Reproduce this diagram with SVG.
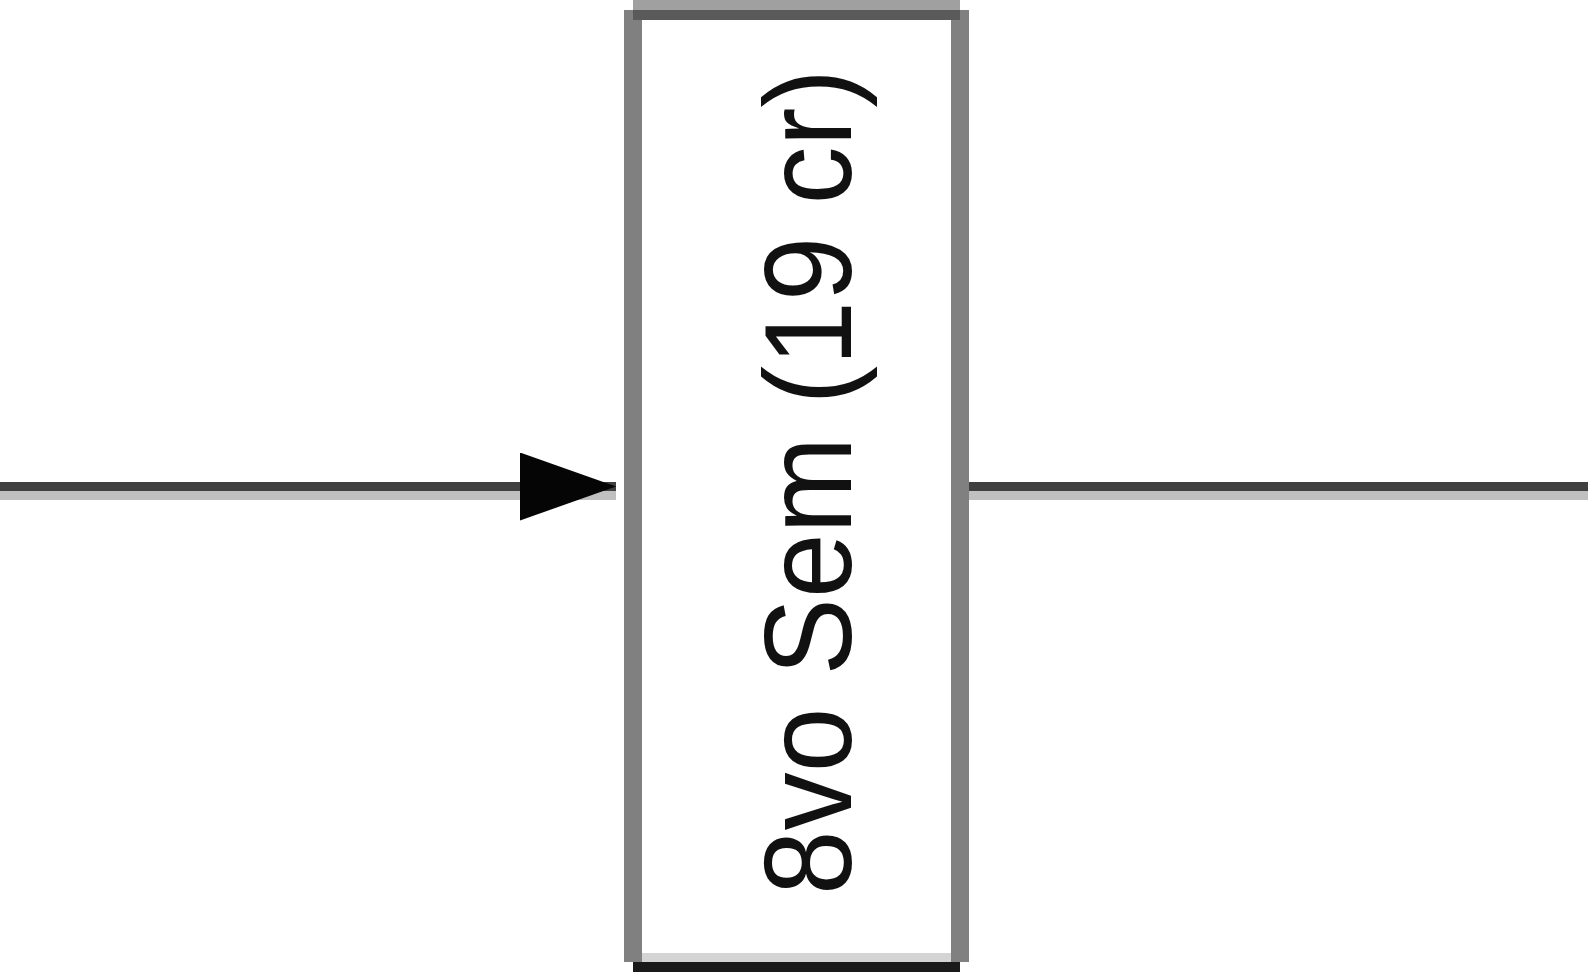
<svg xmlns="http://www.w3.org/2000/svg" width="1588" height="972" viewBox="0 0 1588 972">
  <style>
    .side { fill: #808080; }
    .label { font-family: "Liberation Sans", Arial, sans-serif; font-size: 125px; fill: #111111; }
    .wire { stroke: #404040; stroke-width: 9; fill: none; }
    .wire-shade { stroke: #c0c0c0; stroke-width: 9; fill: none; }
  </style>
  <defs>
    <marker id="arrow" markerUnits="userSpaceOnUse" markerWidth="100" markerHeight="80" refX="96" refY="34" orient="auto">
      <polygon points="0,0 96,34 0,68" fill="#050505"/>
    </marker>
  </defs>
  <rect width="1588" height="972" fill="#ffffff"/>
  <g id="connectors">
    <line class="wire-shade" x1="0" y1="495.5" x2="616" y2="495.5"/>
    <line class="wire" x1="0" y1="486.5" x2="616" y2="486.5" marker-end="url(#arrow)"/>
    <line class="wire-shade" x1="960" y1="495.5" x2="1588" y2="495.5"/>
    <line class="wire" x1="960" y1="486.5" x2="1588" y2="486.5"/>
  </g>
  <g id="node-8vo-sem">
    <rect x="633" y="10" width="327" height="952" fill="#ffffff"/>
    <rect class="side" x="624" y="10" width="18" height="952"/>
    <rect class="side" x="951" y="10" width="18" height="952"/>
    <rect x="633" y="0" width="327" height="10" fill="#a0a0a0"/>
    <rect x="633" y="10" width="327" height="10" fill="#5a5a5a"/>
    <rect x="642" y="953" width="309" height="9" fill="#d4d4d4"/>
    <rect x="633" y="962" width="327" height="10" fill="#1a1a1a"/>
    <text class="label" transform="translate(851,482) rotate(-90)" x="0" y="0" text-anchor="middle" textLength="826" lengthAdjust="spacingAndGlyphs">8vo Sem (19 cr)</text>
  </g>
</svg>
